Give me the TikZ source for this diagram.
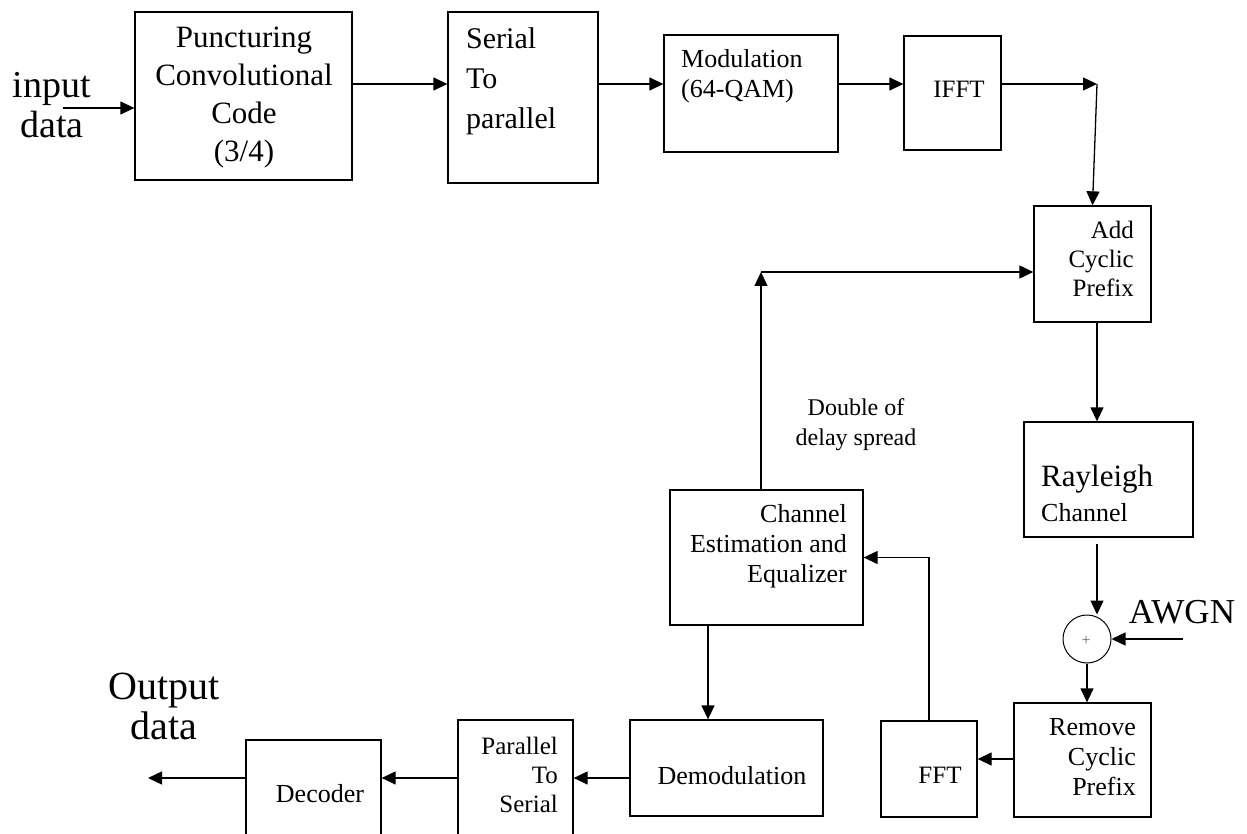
\documentclass[tikz,border=0pt]{standalone}
\usepackage{fontspec}
\setmainfont{Liberation Serif}
\usetikzlibrary{arrows.meta,calc}
\newcommand\mybox[5]{\node[box,minimum width={#4-#2},minimum height={#5-#3}] (#1) at ({(#2+#4)/2},{(#3+#5)/2}) {};}
\newcommand\fs[2]{\fontsize{#1}{#2}\selectfont}
\tikzset{
  box/.style={draw, line width=1.3pt, inner sep=0pt, fill=none},
  arr/.style={line width=1.3pt, -{Triangle[length=14pt,width=13pt]}},
  txt/.style={inner sep=0pt, text=black}
}
\begin{document}
\begin{tikzpicture}[x=1pt,y=-1pt]
\clip (0,0) rectangle (1247,834);
\fill[white] (0,0) rectangle (1247,834);
% boxes
\mybox{punc}{135}{12}{352}{180}
\mybox{stp}{448}{12}{598}{183}
\mybox{mod}{664}{35}{838}{152}
\mybox{ifft}{904}{36}{1001}{150}
\mybox{acp}{1034}{206}{1151}{322}
\mybox{ray}{1024}{422}{1193}{537}
\mybox{chest}{670}{490}{863}{625}
\mybox{rcp}{1014}{703}{1151}{817}
\mybox{fft}{881}{721}{977}{817}
\mybox{demod}{630}{720}{823}{816}
\mybox{pts}{458}{720}{573}{840}
\mybox{dec}{246}{740}{381}{840}
\node[draw, circle, line width=1pt, minimum size=48pt, inner sep=0pt] (add) at (1087,639) {};
% texts
\node[txt, align=center, font=\fs{38}{40}] (tin) at (52,105) {input\\data};
\node[txt, align=center, font=\fs{31}{38}] (tpunc) at (244,98) {Puncturing\\Convolutional\\Code\\(3/4)};
\node[txt, align=left, anchor=west, font=\fs{30}{40}] (tstp) at (466,81) {Serial\\To\\parallel};
\node[txt, align=left, anchor=west, font=\fs{26}{30}] (tmod) at (681,76) {Modulation\\(64-QAM)};
\node[txt, font=\fs{25}{30}] (tifft) at (959,89) {IFFT};
\node[txt, align=right, anchor=east, font=\fs{25}{29}] (tacp) at (1134,259) {Add\\Cyclic\\Prefix};
\node[txt, align=center, font=\fs{24}{30}] (tdbl) at (856,425) {Double of\\delay spread};
\node[txt, align=right, anchor=east, font=\fs{26}{30}] (tchest) at (847,546) {Channel\\Estimation and\\Equalizer};
\node[txt, anchor=west, font=\fs{31}{36}] (tray1) at (1041,479) {Rayleigh};
\node[txt, anchor=west, font=\fs{26}{30}] (tray2) at (1041,513) {Channel};
\node[txt, font=\fs{35}{40}] (tawgn) at (1182,612) {AWGN};
\node[txt, text=black!60, font=\fs{16}{16}] (tplus) at (1086,641) {+};
\node[txt, align=right, anchor=east, font=\fs{26}{30}] (trcp) at (1136,757) {Remove\\Cyclic\\Prefix};
\node[txt, font=\fs{25}{30}] (tfft) at (940,775) {FFT};
\node[txt, font=\fs{26}{30}] (tdemod) at (732,776) {Demodulation};
\node[txt, align=right, anchor=east, font=\fs{25}{29}] (tpts) at (558,775) {Parallel\\To\\Serial};
\node[txt, font=\fs{26}{30}] (tdec) at (320,794) {Decoder};
\node[txt, align=center, font=\fs{40}{40}] (tout) at (164,706) {Output\\data};
% helper coordinates
\coordinate (in) at (63,108);
\coordinate (r1) at (0,84);
\coordinate (c1) at (1097,84);
\coordinate (v1) at (1097,0);
\coordinate (aw) at (1183,639);
\coordinate (r2) at (0,759);
\coordinate (v2) at (708,0);
\coordinate (r3) at (0,778);
\coordinate (out) at (148,778);
\coordinate (c2) at (761,272);
% connectors
\draw[arr] (in) -- (in -| punc.west);
\draw[arr] (punc.east |- r1) -- (stp.west |- r1);
\draw[arr] (stp.east |- r1) -- (mod.west |- r1);
\draw[arr] (mod.east |- r1) -- (ifft.west |- r1);
\draw[arr] (ifft.east |- r1) -- (c1);
\draw[arr] (c1) -- (acp.north);
\draw[arr] (acp.south -| v1) -- (ray.north -| v1);
\draw[arr] ($(ray.south -| v1)+(0,6)$) -- (v1 |- add.north);
\draw[arr] (aw) -- (add.east);
\draw[arr] (add.south) -- (add.south |- rcp.north);
\draw[arr] (rcp.west |- r2) -- (fft.east |- r2);
\draw[arr] (fft.north) |- (chest.east);
\draw[arr] (chest.south -| v2) -- (demod.north -| v2);
\draw[arr] (demod.west |- r3) -- (pts.east |- r3);
\draw[arr] (pts.west |- r3) -- (dec.east |- r3);
\draw[arr] (dec.west |- r3) -- (out);
\draw[arr] (chest.north -| c2) -- (c2);
\draw[arr] (c2) -- (c2 -| acp.west);
\end{tikzpicture}
\end{document}
